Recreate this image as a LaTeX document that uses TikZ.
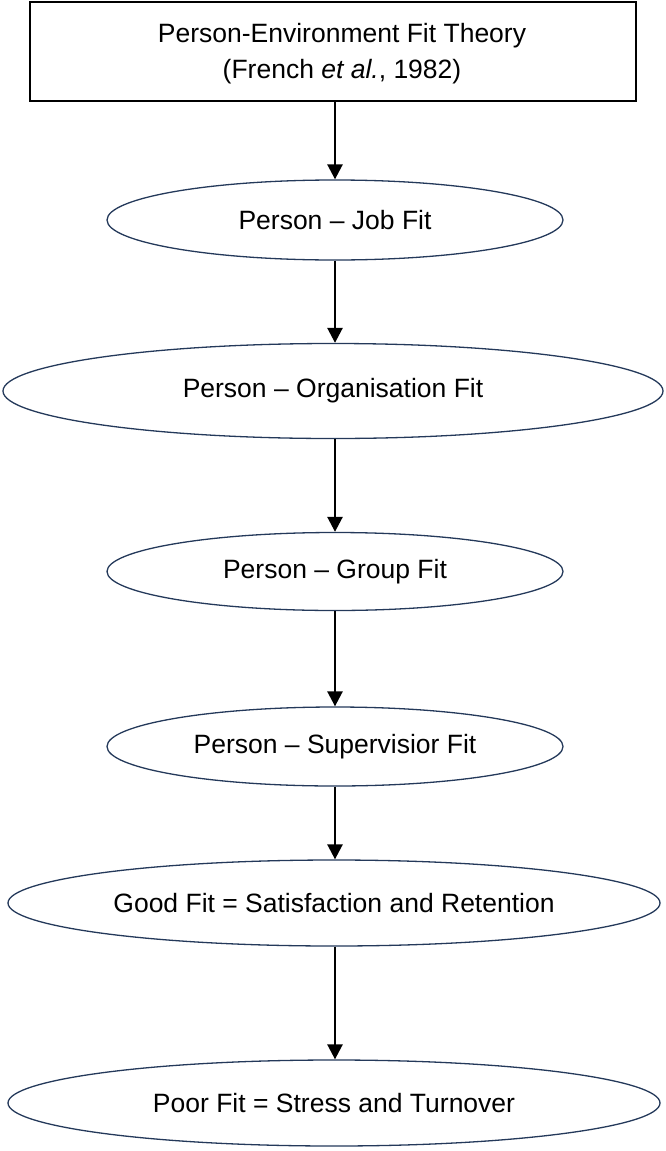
\documentclass[tikz,border=0pt]{standalone}
\usepackage{fontspec}
\setmainfont{Liberation Sans}
\usetikzlibrary{shapes.geometric,arrows.meta}
\definecolor{edgenavy}{HTML}{24395A}
\begin{document}
\begin{tikzpicture}[x=1pt,y=-1pt,
  titlebox/.style={draw=black,line width=1.6pt,minimum width=606pt,minimum height=99pt,inner sep=0pt,align=center,font=\fontsize{26.5}{36}\selectfont},
  fitoval/.style={ellipse,draw=edgenavy,line width=1.3pt,inner sep=0pt,font=\fontsize{26.5}{31}\selectfont},
  flow/.style={line width=2.6pt,-{Triangle[length=15pt,width=15pt]}}]
\useasboundingbox (0,0) rectangle (666,1151);
\node[titlebox] (theory) at (333,51.5) {};
\node[align=center,inner sep=0pt,font=\fontsize{26.5}{36}\selectfont] (theorytext) at (342,54) {Person-Environment Fit Theory\\(French \textit{et al.}, 1982)};
\node[fitoval,minimum width=456pt,minimum height=80pt] (job) at (335,220) {Person -- Job Fit};
\node[fitoval,minimum width=660pt,minimum height=95pt] (org) at (333,391) {Person -- Organisation Fit};
\node[fitoval,minimum width=456pt,minimum height=78pt] (group) at (335,571.5) {Person -- Group Fit};
\node[fitoval,minimum width=456pt,minimum height=79pt] (super) at (335,746.5) {Person -- Supervisior Fit};
\node[fitoval,minimum width=652pt,minimum height=86pt] (good) at (334,903) {Good Fit = Satisfaction and Retention};
\node[fitoval,minimum width=652pt,minimum height=86pt] (poor) at (334,1103) {Poor Fit = Stress and Turnover};
\draw[flow] (theory.south -| job.north) -- (job.north);
\draw[flow] (job.south) -- (job.south |- org.north);
\draw[flow] (job.south |- org.south) -- (group.north);
\draw[flow] (group.south) -- (super.north);
\draw[flow] (super.south) -- (super.south |- good.north);
\draw[flow] (super.south |- good.south) -- (super.south |- poor.north);
\end{tikzpicture}
\end{document}
